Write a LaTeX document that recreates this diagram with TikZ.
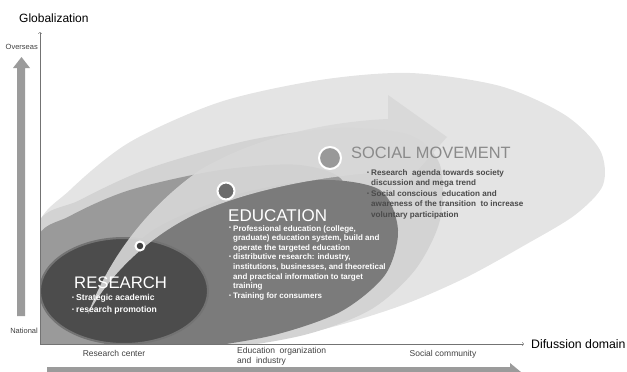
\documentclass[tikz,border=0pt]{standalone}
\usepackage{fontspec}
\setmainfont{Liberation Sans}
\usetikzlibrary{positioning}

\definecolor{outerg}{HTML}{E4E4E4}
\definecolor{midg}{HTML}{D3D3D3}
\definecolor{glowg}{HTML}{9A9A9A}
\definecolor{edug}{HTML}{7B7B7B}
\definecolor{resg}{HTML}{4C4C4C}
\definecolor{swoosh}{HTML}{D8D8D8}
\definecolor{bigarr}{HTML}{9B9B9B}
\definecolor{socg}{HTML}{8A8A8A}
\definecolor{soctext}{HTML}{4A4A4A}

\newcommand{\bp}{\makebox[4pt][l]{\raisebox{0.25ex}{\fontsize{5.5}{5.5}\selectfont\textbullet}}}
\newcommand{\ind}{\hspace*{4pt}}

\begin{document}
\begin{tikzpicture}[x=1pt, y=-1pt, inner sep=0pt]
\useasboundingbox (0,0) rectangle (627,372);

\tikzset{title/.style={anchor=west, font=\fontsize{17}{17}\selectfont}}
\tikzset{bul/.style={anchor=north west, align=left}}
\tikzset{axlab/.style={font=\fontsize{8.5}{10}\selectfont, text=black!75}}
\tikzset{sidelab/.style={font=\fontsize{7.5}{8}\selectfont, text=black!75}}
\tikzset{dotc/.style={circle, draw=white, line width=2pt}}

% layered fields
\begin{scope}
\clip (41,28) rectangle (627,344);
\fill[outerg] plot[smooth cycle] coordinates {(36,352) (36,232) (70,190) (130,142) (220,102) (320,80) (410,73) (500,86) (565,115) (600,150) (603,185) (575,215) (525,245) (465,278) (400,306) (320,330) (220,347) (120,353)};
\fill[midg] plot[smooth cycle] coordinates {(36,352) (36,228) (80,200) (150,168) (250,140) (340,128) (410,135) (440,165) (440,220) (415,270) (370,310) (300,336) (200,350)};
\fill[glowg] plot[smooth cycle] coordinates {(36,352) (36,242) (70,216) (130,190) (220,170) (300,165) (345,185) (335,260) (280,320) (180,352)};
\fill[edug] plot[smooth cycle] coordinates {(110,352) (100,290) (150,232) (235,195) (320,180) (380,190) (398,230) (385,275) (340,312) (270,336) (180,350)};
\fill[resg, draw=black!55, line width=2pt] (124,291) ellipse [x radius=84, y radius=53];
\end{scope}

% swoosh arrow
\fill[swoosh, opacity=0.9] (88,314) .. controls (110,255) and (150,205) .. (200,170)
  .. controls (250,140) and (320,122) .. (388,119) -- (388,95) -- (447,137) -- (395,196)
  -- (385,172) .. controls (320,176) and (250,190) .. (200,212)
  .. controls (160,230) and (115,265) .. (88,314) -- cycle;

% stage dots
\node[dotc, minimum size=22pt, fill=black!40] (cbig) at (330,158) {};
\node[dotc, minimum size=17pt, fill=black!58] (cmid) at (226,191) {};
\node[dotc, minimum size=9pt, fill=black!75] (csmall) at (140,246) {};

% axes
\coordinate (o) at (40,344);
\coordinate (ytop) at (40,32);
\coordinate (xend) at (524,344);
\draw[->, black!55, line width=0.5pt] (o) -- (ytop);
\draw[->, black!55, line width=0.5pt] (o) -- (xend);

% broad grey arrows
\fill[bigarr] (17,316) -- (17,68) -- (13,68) -- (21.5,57) -- (30,68) -- (25,68) -- (25,316) -- cycle;
\fill[bigarr] (47,367) -- (510,367) -- (510,363) -- (527,377) -- (510,391) -- (47,391) -- cycle;

% axis texts
\node[anchor=west, font=\fontsize{12}{12}\selectfont] (glob) at (19,18) {Globalization};
\node[anchor=west, font=\fontsize{12.3}{12}\selectfont] (difd) at (531,344) {Difussion domain};
\node[sidelab, anchor=east] (overs) at (38,47) {Overseas};
\node[sidelab, anchor=east] (natl) at (38,331) {National};
\node[axlab, anchor=base] (rcent) at (114,356.5) {Research center};
\node[axlab, anchor=north west, align=left] (eorg) at (237,347) {Education\ \ organization\\and\ \ industry};
\node[axlab, anchor=base] (scom) at (443,356.5) {Social community};

% stage titles
\node[title, text=white, font=\fontsize{16.7}{17}\selectfont] (res) at (74,283) {RESEARCH};
\node[title, text=white] (edu) at (228,216) {EDUCATION};
\node[title, text=socg, font=\fontsize{16.4}{17}\selectfont] (soc) at (351,153) {SOCIAL MOVEMENT};

% stage bullets
\node[bul, text=white, font=\bfseries\fontsize{8.6}{12}\selectfont] (resb) at (72,294)
  {\bp Strategic academic\\ \bp research promotion};
\node[bul, text=white, font=\bfseries\fontsize{8}{9.6}\selectfont] (edub) at (229,225)
  {\bp Professional education (college,\\
   \ind graduate) education system, build and\\
   \ind operate the targeted education\\
   \bp distributive research: industry,\\
   \ind institutions, businesses, and theoretical\\
   \ind and practical information to target\\
   \ind training\\
   \bp Training for consumers};
\node[bul, text=soctext, font=\bfseries\fontsize{8.1}{10.5}\selectfont] (socb) at (367,169)
  {\bp Research\ \ agenda towards society\\
   \ind discussion and mega trend\\
   \bp Social conscious\ \ education and\\
   \ind awareness of the transition\ \ to increase\\
   \ind voluntary participation};

\end{tikzpicture}
\end{document}
